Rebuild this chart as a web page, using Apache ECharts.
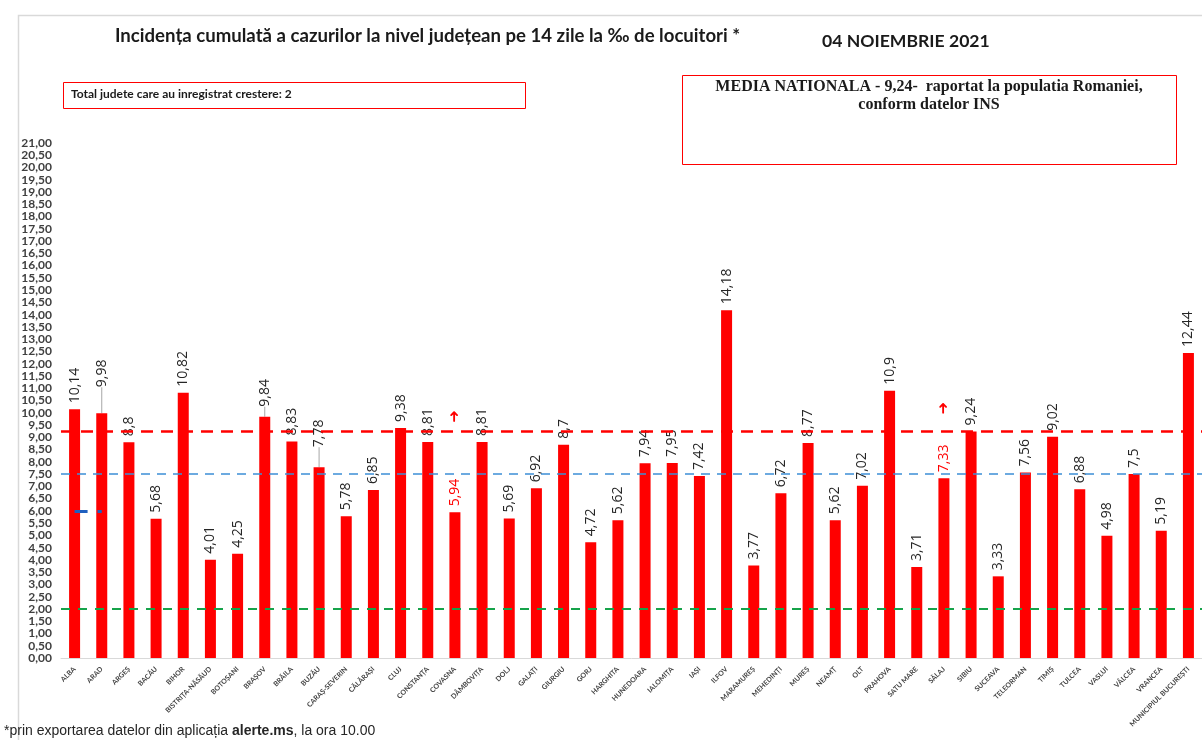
<!DOCTYPE html>
<html>
<head>
<meta charset="utf-8">
<script src="https://cdn.jsdelivr.net/npm/echarts@6/dist/echarts.min.js"></script>
<style>
  html, body { margin: 0; padding: 0; background: #fff; }
  #chart { width: 1202px; height: 740px; }
</style>
</head>
<body>
<div id="chart"></div>
<script>
// judete (categorii pe axa X)
const judete = ['ALBA', 'ARAD', 'ARGEȘ', 'BACĂU', 'BIHOR', 'BISTRIȚA-NĂSĂUD', 'BOTOȘANI', 'BRAȘOV', 'BRĂILA', 'BUZĂU',
  'CARAȘ-SEVERIN', 'CĂLĂRAȘI', 'CLUJ', 'CONSTANȚA', 'COVASNA', 'DÂMBOVIȚA', 'DOLJ', 'GALAȚI', 'GIURGIU', 'GORJ',
  'HARGHITA', 'HUNEDOARA', 'IALOMIȚA', 'IAȘI', 'ILFOV', 'MARAMUREȘ', 'MEHEDINȚI', 'MUREȘ', 'NEAMȚ', 'OLT',
  'PRAHOVA', 'SATU MARE', 'SĂLAJ', 'SIBIU', 'SUCEAVA', 'TELEORMAN', 'TIMIȘ', 'TULCEA', 'VASLUI', 'VÂLCEA',
  'VRANCEA', 'MUNICIPIUL BUCUREȘTI']
// incidenta la 14 zile (‰)
const incidenta = [10.14, 9.98, 8.8, 5.68, 10.82, 4.01, 4.25, 9.84, 8.83, 7.78,
  5.78, 6.85, 9.38, 8.81, 5.94, 8.81, 5.69, 6.92, 8.7, 4.72,
  5.62, 7.94, 7.95, 7.42, 14.18, 3.77, 6.72, 8.77, 5.62, 7.02,
  10.9, 3.71, 7.33, 9.24, 3.33, 7.56, 9.02, 6.88, 4.98, 7.5,
  5.19, 12.44]
// judete cu crestere (eticheta rosie + sageata)
const judeteCrestere = ['COVASNA', 'SĂLAJ']
// praguri
const mediaNationala = 9.24
const pragAlbastru = 7.5
const pragVerde = 2
const pragScurt = 6
const yMin = 0
const yMax = 21
const yInterval = 0.5

const fmt = v => String(v).replace('.', ',')

const myChart = echarts.init(document.querySelector('#chart'))

// etichete mutate in sus cu linie de ghidaj
const shiftUp = { 'ARAD': 20, 'BRAȘOV': 4, 'BUZĂU': 14 }
// distanta pana la sageata
const arrowGap = { 'COVASNA': 56, 'SĂLAJ': 30 }

const seriesData = incidenta.map((v, i) => {
  const item = { value: v }
  if (judeteCrestere.includes(judete[i])) {
    item.label = {
      formatter: '{r|' + fmt(v) + '}{a|➜}',
      rich: {
        r: { color: '#ff0000', fontSize: 14, fontFamily: 'Open Sans' },
        a: { color: '#ff0000', fontSize: 15, fontFamily: 'DejaVu Sans', padding: [0, 0, 0, arrowGap[judete[i]]] }
      }
    }
  }
  if (shiftUp[judete[i]]) {
    item.labelLine = { show: true }
  }
  return item
})

const option = {
  animation: false,
  backgroundColor: '#ffffff',
  title: [
    {
      text: 'Incidența cumulată a cazurilor la nivel județean pe 14 zile la ‰ de locuitori *',
      left: 110,
      top: 21,
      textStyle: { fontFamily: 'Lato', fontWeight: 'bold', fontSize: 18.6, color: '#1a1a1a' }
    },
    {
      text: '04 NOIEMBRIE 2021',
      left: 817,
      top: 27,
      textStyle: { fontFamily: 'Lato', fontWeight: 'bold', fontSize: 17.6, color: '#1a1a1a' }
    }
  ],
  graphic: [
    // chenar exterior
    {
      type: 'rect', left: 16, top: 13, silent: true,
      shape: { width: 1200, height: 740 },
      style: { fill: 'none', stroke: '#d9d9d9', lineWidth: 1.5 }
    },
    {
      type: 'rect', left: 63, top: 82, silent: true,
      shape: { width: 462, height: 26 },
      style: { fill: '#fff', stroke: '#ff0000', lineWidth: 1 }
    },
    {
      type: 'text', left: 71, top: 88, silent: true,
      style: {
        text: 'Total judete care au inregistrat crestere: 2',
        font: 'bold 12px Lato', fill: '#1a1a1a'
      }
    },
    {
      type: 'rect', left: 682, top: 75, silent: true,
      shape: { width: 494, height: 89 },
      style: { fill: '#fff', stroke: '#ff0000', lineWidth: 1 }
    },
    {
      type: 'text', x: 929, y: 78, silent: true,
      style: {
        text: 'MEDIA NATIONALA - 9,24-  raportat la populatia Romaniei,\nconform datelor INS',
        font: 'bold 16px "Liberation Serif"', fill: '#1a1a1a',
        align: 'center', lineHeight: 18
      }
    },
    {
      type: 'text', left: 4, top: 724, silent: true,
      style: {
        text: '{n|*prin exportarea datelor din aplicația }{b|alerte.ms}{n|, la ora 10.00}',
        rich: {
          n: { font: '14px "Liberation Sans"', fill: '#262626' },
          b: { font: 'bold 14px "Liberation Sans"', fill: '#262626' }
        }
      }
    }
  ],
  grid: {
    left: 61,
    top: 143,
    width: 1142,
    bottom: 82,
    containLabel: false
  },
  xAxis: {
    type: 'category',
    data: judete,
    axisLine: { lineStyle: { color: '#d9d9d9', width: 1 } },
    axisTick: { show: false },
    axisLabel: {
      interval: 0,
      rotate: 45,
      margin: 10,
      fontFamily: 'Lato',
      fontWeight: 'bold',
      fontSize: 7,
      color: '#404040'
    }
  },
  yAxis: {
    type: 'value',
    min: yMin,
    max: yMax,
    interval: yInterval,
    axisLine: { show: false },
    axisTick: { show: false },
    splitLine: { show: false },
    axisLabel: {
      margin: 9,
      fontFamily: 'Lato',
      fontWeight: 'bold',
      fontSize: 12,
      color: '#404040',
      formatter: v => v.toFixed(2).replace('.', ',')
    }
  },
  series: [
    {
      type: 'bar',
      data: seriesData,
      barWidth: 11,
      itemStyle: { color: '#ff0000' },
      label: {
        show: true,
        position: 'top',
        rotate: 90,
        align: 'left',
        verticalAlign: 'middle',
        distance: 6,
        fontFamily: 'Open Sans',
        fontSize: 14,
        color: '#262626',
        formatter: p => fmt(p.value)
      },
      labelLine: {
        show: false,
        lineStyle: { color: '#a6a6a6', width: 1 }
      },
      labelLayout: params => {
        const d = shiftUp[judete[params.dataIndex]]
        return d ? { dx: d } : {}
      },
      markLine: {
        silent: true,
        symbol: 'none',
        label: { show: false },
        data: [
          { yAxis: mediaNationala, lineStyle: { color: '#ff0000', width: 2.5, type: [12, 8] } },
          { yAxis: pragAlbastru, lineStyle: { color: '#3d8fd6', width: 1.5, type: [9, 7] } },
          { yAxis: pragVerde, lineStyle: { color: '#16a34a', width: 2, type: [9, 8] } },
          [
            { coord: [judete[0], pragScurt], lineStyle: { color: '#1f5fbf', width: 3, type: [13, 10] } },
            { coord: [judete[1], pragScurt] }
          ]
        ]
      }
    }
  ]
}

myChart.setOption(option)
</script>
</body>
</html>
